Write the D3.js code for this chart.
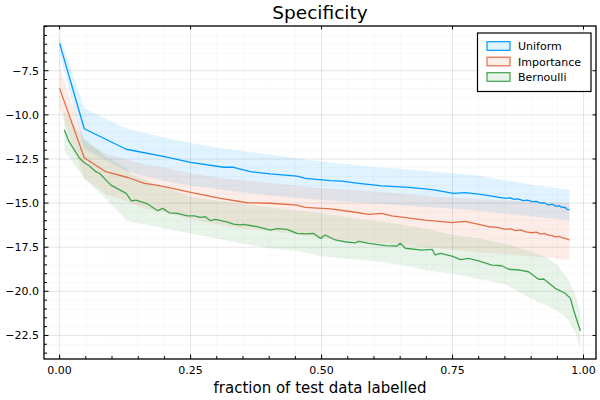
<!DOCTYPE html>
<html><head><meta charset="utf-8">
<script src="https://cdn.jsdelivr.net/npm/d3@7"></script>
<style>body{margin:0;background:#fff} svg{display:block;font-family:"DejaVu Sans",sans-serif}</style>
</head><body><svg id="c" width="600" height="400"></svg>
<script>
const title = "Specificity";
const xLabel = "fraction of test data labelled";
const seriesNames = ["Uniform", "Importance", "Bernoulli"];
const seriesColors = ["#009AFA", "#E36F47", "#3EA44E"];
const xTicks = [0, 0.25, 0.5, 0.75, 1.0];
const yTicks = [-7.5, -10, -12.5, -15, -17.5, -20, -22.5];

// Uniform
const uniformX = [0, 0.047, 0.127, 0.2, 0.25, 0.313, 0.332, 0.364, 0.402, 0.453, 0.469, 0.517, 0.539, 0.571, 0.615, 0.666, 0.698, 0.717, 0.752, 0.774, 0.8, 0.825, 0.851, 0.86, 0.868, 0.875, 0.885, 0.893, 0.902, 0.91, 0.918, 0.925, 0.933, 0.94, 0.947, 0.953, 0.959, 0.965, 0.969, 0.973];
const uniformMean = [-5.95, -10.79, -11.95, -12.37, -12.69, -12.97, -12.97, -13.22, -13.35, -13.47, -13.6, -13.73, -13.75, -13.88, -14.03, -14.11, -14.2, -14.26, -14.45, -14.41, -14.49, -14.6, -14.73, -14.7, -14.79, -14.76, -14.86, -14.83, -14.92, -14.9, -15.0, -14.98, -15.11, -15.06, -15.18, -15.14, -15.24, -15.25, -15.36, -15.39];
const uniformBandX = [0, 0.047, 0.127, 0.2, 0.25, 0.3, 0.35, 0.4, 0.45, 0.5, 0.55, 0.6, 0.65, 0.7, 0.75, 0.8, 0.85, 0.9, 0.94, 0.973];
const uniformHi = [-5.5, -9.63, -10.77, -11.3, -11.6, -11.85, -12.05, -12.25, -12.45, -12.65, -12.8, -12.95, -13.05, -13.18, -13.3, -13.45, -13.7, -13.95, -14.12, -14.26];
const uniformLo = [-6.5, -11.9, -13.2, -13.75, -14.0, -14.2, -14.4, -14.55, -14.7, -14.83, -14.92, -15.02, -15.12, -15.22, -15.3, -15.42, -15.6, -15.75, -15.88, -15.96];

// Importance
const importanceX = [0, 0.047, 0.088, 0.13, 0.162, 0.193, 0.25, 0.307, 0.358, 0.402, 0.453, 0.469, 0.517, 0.558, 0.59, 0.615, 0.634, 0.698, 0.749, 0.774, 0.8, 0.819, 0.835, 0.851, 0.86, 0.87, 0.88, 0.89, 0.902, 0.91, 0.918, 0.925, 0.933, 0.94, 0.947, 0.953, 0.959, 0.965, 0.969, 0.973];
const importanceMean = [-8.5, -12.43, -13.22, -13.55, -13.88, -14.03, -14.39, -14.73, -14.98, -15.01, -15.11, -15.24, -15.33, -15.49, -15.64, -15.58, -15.72, -15.96, -16.11, -16.04, -16.2, -16.34, -16.38, -16.49, -16.45, -16.56, -16.52, -16.63, -16.68, -16.65, -16.76, -16.72, -16.81, -16.84, -16.92, -16.88, -16.96, -17.0, -17.04, -17.09];
const importanceBandX = [0, 0.047, 0.088, 0.13, 0.162, 0.2, 0.25, 0.3, 0.35, 0.4, 0.45, 0.5, 0.55, 0.6, 0.65, 0.7, 0.75, 0.8, 0.85, 0.9, 0.94, 0.973];
const importanceHi = [-7.3, -11.43, -12.2, -12.55, -12.8, -13.0, -13.31, -13.55, -13.72, -13.85, -14.0, -14.16, -14.25, -14.35, -14.45, -14.6, -14.7, -14.78, -14.85, -14.92, -14.97, -15.01];
const importanceLo = [-9.6, -13.6, -14.5, -14.9, -15.3, -15.5, -15.9, -16.2, -16.45, -16.55, -16.75, -17.0, -17.1, -17.25, -17.35, -17.5, -17.65, -17.8, -17.9, -18.0, -18.12, -18.22];

// Bernoulli
const bernoulliX = [0.009, 0.018, 0.038, 0.047, 0.057, 0.069, 0.076, 0.098, 0.127, 0.137, 0.146, 0.168, 0.187, 0.197, 0.209, 0.225, 0.244, 0.257, 0.269, 0.278, 0.288, 0.297, 0.319, 0.332, 0.345, 0.351, 0.377, 0.402, 0.415, 0.434, 0.453, 0.469, 0.485, 0.498, 0.507, 0.526, 0.545, 0.564, 0.571, 0.59, 0.622, 0.644, 0.65, 0.66, 0.692, 0.711, 0.717, 0.727, 0.749, 0.765, 0.78, 0.8, 0.825, 0.844, 0.857, 0.876, 0.895, 0.914, 0.924, 0.946, 0.965, 0.975, 0.981, 0.994];
const bernoulliMean = [-10.86, -11.52, -12.46, -12.71, -12.9, -13.22, -13.31, -13.98, -14.45, -14.87, -14.83, -15.05, -15.43, -15.3, -15.55, -15.58, -15.73, -15.72, -15.81, -15.77, -16.0, -15.92, -16.06, -16.19, -16.24, -16.2, -16.34, -16.53, -16.45, -16.49, -16.72, -16.75, -16.72, -17.0, -16.81, -17.09, -17.19, -17.25, -17.17, -17.28, -17.41, -17.43, -17.28, -17.56, -17.66, -17.62, -17.94, -17.85, -18.0, -18.2, -18.13, -18.27, -18.51, -18.55, -18.75, -18.79, -18.89, -19.32, -19.3, -19.83, -20.11, -20.4, -21.06, -22.25];
const bernoulliBandX = [0.009, 0.047, 0.09, 0.127, 0.137, 0.2, 0.25, 0.3, 0.35, 0.4, 0.45, 0.5, 0.55, 0.6, 0.65, 0.7, 0.75, 0.8, 0.85, 0.9, 0.93, 0.95, 0.97, 0.985, 0.994];
const bernoulliHi = [-9.8, -11.4, -12.4, -13.0, -13.4, -14.1, -14.64, -14.85, -15.05, -15.25, -15.4, -15.58, -15.8, -16.0, -16.2, -16.45, -16.8, -17.0, -17.3, -17.75, -18.1, -18.5, -19.3, -20.2, -21.2];
const bernoulliLo = [-12.0, -13.6, -14.8, -15.96, -16.06, -16.43, -16.72, -17.0, -17.3, -17.56, -17.7, -18.0, -18.15, -18.3, -18.5, -18.8, -19.0, -19.3, -19.6, -20.4, -20.8, -21.1, -21.6, -22.4, -23.3];

const series = [
  {x: uniformX, y: uniformMean, bx: uniformBandX, hi: uniformHi, lo: uniformLo},
  {x: importanceX, y: importanceMean, bx: importanceBandX, hi: importanceHi, lo: importanceLo},
  {x: bernoulliX, y: bernoulliMean, bx: bernoulliBandX, hi: bernoulliHi, lo: bernoulliLo}
];

const svg = d3.select("#c");
const L = 44, R = 596, T = 26, B = 359;

const allX = series.flatMap(s => s.x.concat(s.bx));
const allY = series.flatMap(s => s.hi.concat(s.lo, s.y));
const [x0, x1] = d3.extent(allX), [y0, y1] = d3.extent(allY);
const px = (x1 - x0) * 0.03, py = (y1 - y0) * 0.03;
const x = d3.scaleLinear().domain([x0 - px, x1 + px]).range([L, R]);
const y = d3.scaleLinear().domain([y0 - py, y1 + py]).range([B, T]);

// grid
const xMinor = d3.range(0, 1.0001, 0.05);
const yMinor = d3.range(-23.5, -4.9, 0.5);
const g = svg.append("g");
g.selectAll(".xm").data(xMinor).enter().append("line")
  .attr("x1", d => x(d)).attr("x2", d => x(d)).attr("y1", T).attr("y2", B)
  .attr("stroke", "#000").attr("stroke-opacity", 0.05).attr("stroke-width", 0.6);
g.selectAll(".ym").data(yMinor).enter().append("line")
  .attr("y1", d => y(d)).attr("y2", d => y(d)).attr("x1", L).attr("x2", R)
  .attr("stroke", "#000").attr("stroke-opacity", 0.05).attr("stroke-width", 0.6);
g.selectAll(".xM").data(xTicks).enter().append("line")
  .attr("x1", d => x(d)).attr("x2", d => x(d)).attr("y1", T).attr("y2", B)
  .attr("stroke", "#000").attr("stroke-opacity", 0.1).attr("stroke-width", 0.8);
g.selectAll(".yM").data(yTicks).enter().append("line")
  .attr("y1", d => y(d)).attr("y2", d => y(d)).attr("x1", L).attr("x2", R)
  .attr("stroke", "#000").attr("stroke-opacity", 0.1).attr("stroke-width", 0.8);

// clip
svg.append("clipPath").attr("id", "clip").append("rect")
  .attr("x", L).attr("y", T).attr("width", R - L).attr("height", B - T);
const plot = svg.append("g").attr("clip-path", "url(#clip)");

series.forEach((s, i) => {
  const band = s.bx.map((v, j) => ({x: v, hi: s.hi[j], lo: s.lo[j]}));
  plot.append("path").datum(band)
    .attr("d", d3.area().x(d => x(d.x)).y0(d => y(d.lo)).y1(d => y(d.hi)))
    .attr("fill", seriesColors[i]).attr("fill-opacity", 0.12).attr("stroke", "none");
});
series.forEach((s, i) => {
  const pts = s.x.map((v, j) => [v, s.y[j]]);
  plot.append("path").datum(pts)
    .attr("d", d3.line().x(d => x(d[0])).y(d => y(d[1])))
    .attr("fill", "none").attr("stroke", seriesColors[i]).attr("stroke-width", 1.3)
    .attr("stroke-linejoin", "round");
});

// ticks
const tk = svg.append("g").attr("stroke", "#000").attr("stroke-width", 1);
xMinor.forEach(d => {
  const major = xTicks.some(t => Math.abs(t - d) < 1e-9);
  tk.append("line").attr("x1", x(d)).attr("x2", x(d)).attr("y1", B).attr("y2", B - (major ? 4.5 : 3));
  if (major) tk.append("line").attr("x1", x(d)).attr("x2", x(d)).attr("y1", T).attr("y2", T + 3.5);
});
yMinor.forEach(d => {
  const major = yTicks.some(t => Math.abs(t - d) < 1e-9);
  tk.append("line").attr("y1", y(d)).attr("y2", y(d)).attr("x1", L).attr("x2", L + (major ? 4.5 : 3));
  if (major) tk.append("line").attr("y1", y(d)).attr("y2", y(d)).attr("x1", R).attr("x2", R - 3.5);
});

// frame
svg.append("rect").attr("x", L).attr("y", T).attr("width", R - L).attr("height", B - T)
  .attr("fill", "none").attr("stroke", "#000").attr("stroke-width", 1.3);

// tick labels
const fx = d3.format(".2f"), fy = d3.format(".1f");
svg.append("g").selectAll("text").data(xTicks).enter().append("text")
  .attr("x", d => x(d)).attr("y", 374).attr("text-anchor", "middle")
  .attr("font-size", 11).attr("fill", "#000").text(d => fx(d));
svg.append("g").selectAll("text").data(yTicks).enter().append("text")
  .attr("x", 39).attr("y", d => y(d) + 4).attr("text-anchor", "end")
  .attr("font-size", 11).attr("fill", "#000").text(d => fy(d));

// title and labels
svg.append("text").attr("x", (L + R) / 2).attr("y", 19).attr("text-anchor", "middle")
  .attr("font-size", 18.5).attr("fill", "#000").text(title);
svg.append("text").attr("x", (L + R) / 2).attr("y", 393).attr("text-anchor", "middle")
  .attr("font-size", 15).attr("fill", "#000").text(xLabel);

// legend
const lg = svg.append("g");
lg.append("rect").attr("x", 477.5).attr("y", 33).attr("width", 113.5).attr("height", 58.5)
  .attr("fill", "#fff").attr("stroke", "#000").attr("stroke-width", 1.2);
seriesNames.forEach((n, i) => {
  const cy = 46 + i * 15.5;
  lg.append("rect").attr("x", 487).attr("y", cy - 4.3).attr("width", 23).attr("height", 8.6)
    .attr("fill", seriesColors[i]).attr("fill-opacity", 0.12)
    .attr("stroke", seriesColors[i]).attr("stroke-width", 1.2);
  lg.append("text").attr("x", 518).attr("y", cy + 4).attr("font-size", 11)
    .attr("fill", "#000").text(n);
});
</script>
</body></html>
